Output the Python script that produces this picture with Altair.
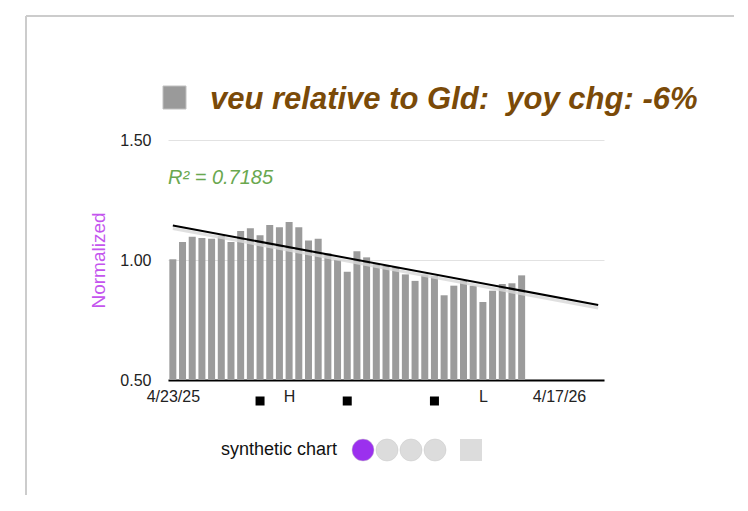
import altair as alt
import pandas as pd

# ---- data ----
values = [1.003, 1.075, 1.097, 1.092, 1.089, 1.101, 1.075, 1.121, 1.132, 1.103,
          1.146, 1.136, 1.158, 1.136, 1.081, 1.089, 1.028, 1.000, 0.951, 1.036,
          1.011, 0.982, 0.975, 0.970, 0.940, 0.913, 0.939, 0.933, 0.853, 0.893,
          0.913, 0.893, 0.825, 0.872, 0.900, 0.903, 0.936]
index = list(range(len(values)))
tick_pos = [0, 12, 32, 39.86]
tick_text = ["4/23/25", "H", "L", "4/17/26"]
marker_pos = [9, 18, 27]
y_ticks = [0.5, 1.0, 1.5]
title_text = "veu relative to Gld:\u00a0 yoy chg: -6%"
r2_text = "R\u00b2 = 0.7185"
y_title = "Normalized"
legend_label = "synthetic chart"
legend_dot_colors = ["#9b30ee", "#dcdcdc", "#dcdcdc", "#dcdcdc"]
legend_dot_x = [195, 219, 243, 267]

FONT = "Liberation Sans"
W, H = 436, 240

df = pd.DataFrame({"i": index, "v": values})
mk = pd.DataFrame({"i": marker_pos})

xscale = alt.Scale(domain=[-0.5, 44.5], nice=False, zero=False, padding=0)
yscale = alt.Scale(domain=[0.5, 1.5], nice=False, zero=False, padding=0)

label_expr = ""
for p, t in zip(tick_pos, tick_text):
    label_expr += f"datum.value == {p} ? '{t}' : "
label_expr += "''"

xaxis = alt.Axis(values=tick_pos, labelExpr=label_expr, title=None, grid=False,
                 ticks=False, domainColor="#000000", domainWidth=2,
                 labelFont=FONT, labelFontSize=16, labelColor="#222222",
                 labelPadding=8, labelAngle=0, labelOverlap=False, labelFlush=False)
yaxis = alt.Axis(values=y_ticks, format=".2f", title=y_title, grid=True,
                 gridColor="#e2e2e2", domain=False, ticks=False,
                 labelFont=FONT, labelFontSize=16, labelColor="#222222",
                 labelPadding=17, titleFont=FONT, titleFontSize=19,
                 titleFontWeight="normal", titleColor="#c455ee",
                 titleX=-70, titleY=120, titleAngle=-90,
                 titleAlign="center", titleBaseline="middle")

base = alt.Chart(df)

bars = base.mark_bar(size=7, color="#9b9b9b").encode(
    x=alt.X("i:Q", scale=xscale, axis=xaxis),
    y=alt.Y("v:Q", scale=yscale, axis=yaxis),
    y2=alt.datum(0.5),
)

reg = base.transform_regression("i", "v", extent=[0, 43.9])
shadow = reg.mark_line(color="#d8d8d8", strokeWidth=3, yOffset=3, opacity=0.8).encode(
    x=alt.X("i:Q", scale=xscale), y=alt.Y("v:Q", scale=yscale))
trend = reg.mark_line(color="#000000", strokeWidth=2).encode(
    x=alt.X("i:Q", scale=xscale), y=alt.Y("v:Q", scale=yscale))

markers = alt.Chart(mk).mark_square(size=81, color="#000000", opacity=1, yOffset=21).encode(
    x=alt.X("i:Q", scale=xscale), y=alt.datum(0.5))

r2 = alt.Chart(pd.DataFrame({"t": [r2_text]})).mark_text(
    align="left", baseline="middle", font=FONT, fontSize=20, fontStyle="italic",
    color="#6aa84f").encode(x=alt.value(0), y=alt.value(38), text="t:N")

title = alt.Chart(pd.DataFrame({"t": [title_text]})).mark_text(
    align="left", baseline="alphabetic", font=FONT, fontSize=31, fontStyle="italic",
    fontWeight="bold", color="#7a4a08").encode(x=alt.value(42), y=alt.value(-31), text="t:N")

title_sq = alt.Chart(pd.DataFrame({"a": [0]})).mark_square(
    size=529, color="#9a9a9a", opacity=1, stroke="#c0c0c0", strokeWidth=1).encode(
    x=alt.value(6.5), y=alt.value(-42.5))

border_top = alt.Chart(pd.DataFrame({"a": [0]})).mark_rule(color="#cccccc", strokeWidth=2).encode(
    x=alt.value(-142), x2=alt.value(600), y=alt.value(-124))
border_left = alt.Chart(pd.DataFrame({"a": [0]})).mark_rule(color="#cccccc", strokeWidth=2).encode(
    x=alt.value(-142), y=alt.value(-124), y2=alt.value(400))

leg_text = alt.Chart(pd.DataFrame({"t": [legend_label]})).mark_text(
    align="left", baseline="middle", font=FONT, fontSize=18, color="#111111").encode(
    x=alt.value(53), y=alt.value(310), text="t:N")

dots_df = pd.DataFrame({"px": legend_dot_x, "c": legend_dot_colors})
leg_dots = alt.Chart(dots_df).mark_circle(size=484, opacity=1, stroke="#c8c8c8", strokeWidth=0.5).encode(
    x=alt.X("px:Q", scale=None), y=alt.value(310), color=alt.Color("c:N", scale=None))
leg_sq = alt.Chart(pd.DataFrame({"a": [0]})).mark_square(size=484, color="#dcdcdc", opacity=1).encode(
    x=alt.value(303), y=alt.value(310))

chart = alt.layer(
    border_top, border_left, bars, shadow, trend, markers, r2, title, title_sq,
    leg_text, leg_dots, leg_sq
).properties(
    width=W, height=H,
    background="white",
    autosize=alt.AutoSizeParams(type="none"),
    padding={"left": 160, "top": 132, "right": 130, "bottom": 115},
).configure_view(strokeWidth=0, stroke="transparent")

chart.save("out.html", embed_options={"renderer": "svg", "actions": False})
